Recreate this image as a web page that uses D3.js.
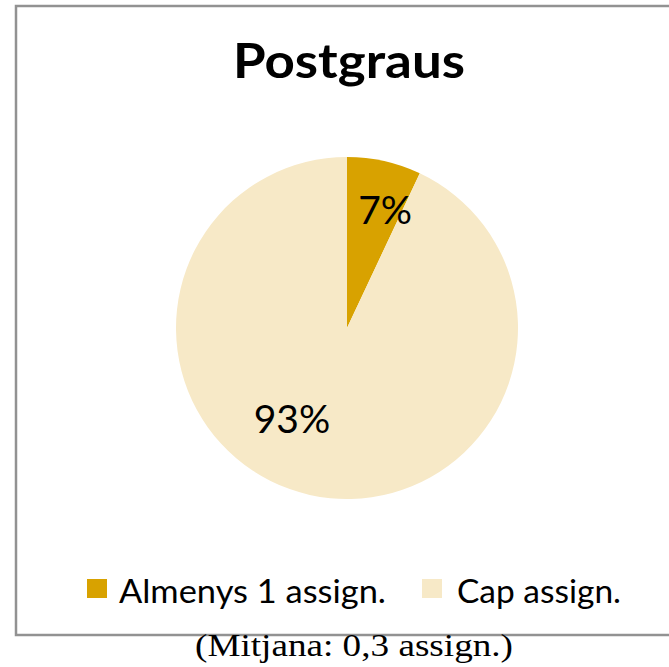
<!DOCTYPE html>
<html lang="ca">
<head>
<meta charset="utf-8">
<title>Postgraus</title>
<script src="https://cdn.jsdelivr.net/npm/d3@7"></script>
<style>
  body { margin: 0; background: #fff; }
  svg text { font-family: Lato, "Open Sans", sans-serif; fill: #000; }
  svg text.caption { font-family: "Liberation Serif", serif; }
</style>
</head>
<body>
<div id="chart"></div>
<script>
// data
var categories = ["Almenys 1 assign.", "Cap assign."];
var values = [7, 93];
var colors = ["#D8A200", "#F7E9C7"];
var title = "Postgraus";
var caption = "(Mitjana: 0,3 assign.)";

var w = 669, h = 667;
var cx = 347, cy = 328, radius = 171;

var svg = d3.select("#chart").append("svg")
  .attr("width", w)
  .attr("height", h);

// chart frame (right side runs off the page)
svg.append("rect")
  .attr("x", 16).attr("y", 6)
  .attr("width", 700).attr("height", 629)
  .attr("fill", "#fff")
  .attr("stroke", "#929292")
  .attr("stroke-width", 2.5);

svg.append("text")
  .attr("x", 349).attr("y", 78)
  .attr("text-anchor", "middle")
  .style("font-weight", "bold")
  .style("font-size", "48px")
  .attr("textLength", 232)
  .attr("lengthAdjust", "spacingAndGlyphs")
  .text(title);

var pie = d3.pie().sort(null).value(function(d) { return d; });
var arcs = pie(values);

var arc = d3.arc().innerRadius(0).outerRadius(radius);
var labelArc = d3.arc().innerRadius(radius * 0.7).outerRadius(radius * 0.7);

var g = svg.append("g").attr("transform", "translate(" + cx + "," + cy + ")");

g.selectAll("path")
  .data(arcs)
  .enter()
  .append("path")
  .attr("d", arc)
  .attr("fill", function(d, i) { return colors[i]; });

// Excel-like best fit nudges for the labels
var nudge = [[12, 13], [-29, -12]];
g.selectAll("text.lbl")
  .data(arcs)
  .enter()
  .append("text")
  .attr("class", "lbl")
  .attr("text-anchor", "middle")
  .attr("x", function(d, i) { return labelArc.centroid(d)[0] + nudge[i][0]; })
  .attr("y", function(d, i) { return labelArc.centroid(d)[1] + nudge[i][1]; })
  .style("font-size", "39px")
  .text(function(d) { return d.value + "%"; });

// legend
var legendX = [87, 422];
var leg = svg.selectAll("g.leg")
  .data(categories)
  .enter()
  .append("g")
  .attr("class", "leg")
  .attr("transform", function(d, i) { return "translate(" + legendX[i] + ",579)"; });

leg.append("rect")
  .attr("width", 20).attr("height", 19)
  .attr("fill", function(d, i) { return colors[i]; });

var legendLen = [267, 164];
leg.append("text")
  .attr("x", function(d, i) { return i === 0 ? 32 : 35; })
  .attr("y", 24)
  .style("font-size", "32px")
  .attr("textLength", function(d, i) { return legendLen[i]; })
  .attr("lengthAdjust", "spacingAndGlyphs")
  .text(function(d) { return d; });

svg.append("text")
  .attr("class", "caption")
  .attr("x", 354).attr("y", 656)
  .attr("text-anchor", "middle")
  .style("font-size", "31px")
  .attr("textLength", 318)
  .attr("lengthAdjust", "spacingAndGlyphs")
  .text(caption);
</script>
</body>
</html>
